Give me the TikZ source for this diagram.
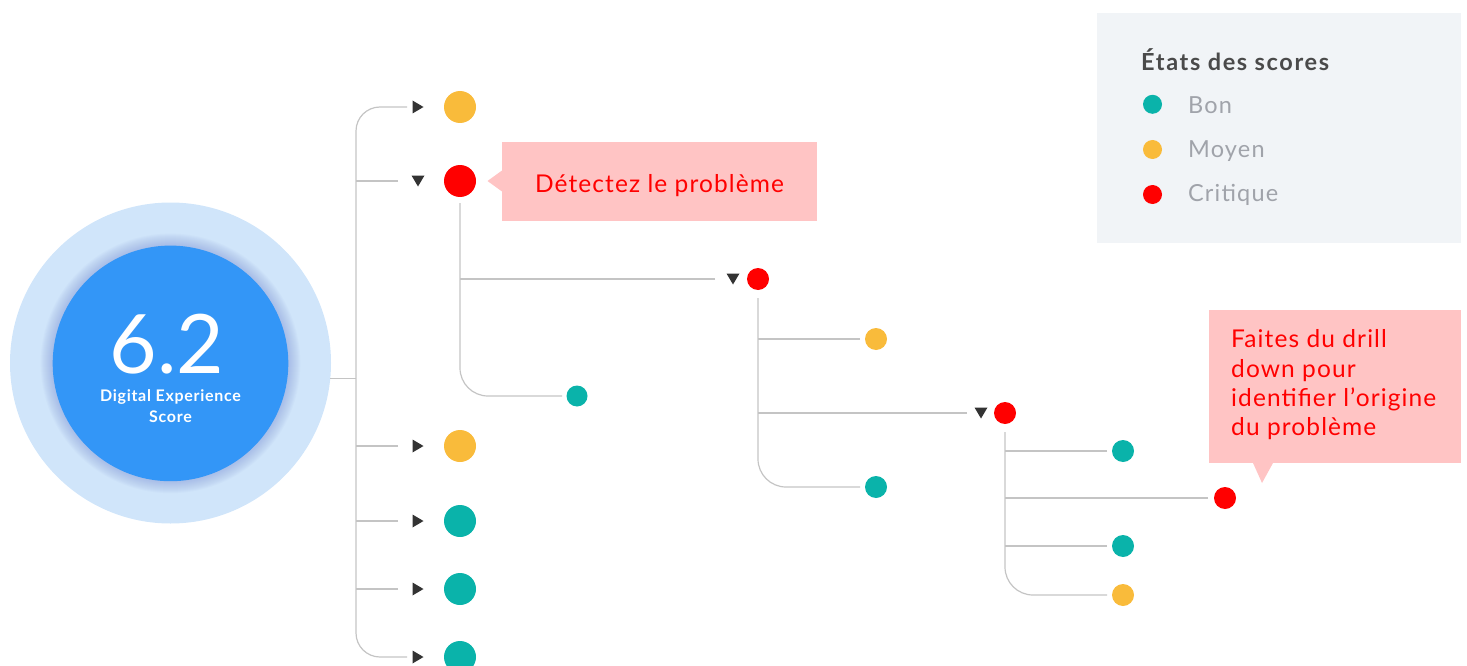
\documentclass[tikz,border=0pt]{standalone}
\usepackage{fontspec}
\setmainfont{Lato}
\newfontfamily\callfont[LetterSpace=4.5]{Lato}
\newfontfamily\legfont[LetterSpace=5]{Lato}
\newfontfamily\ttlfont[LetterSpace=7]{Lato}
\newfontfamily\dxfont[LetterSpace=4.4]{Lato}
\definecolor{teal}{HTML}{0AB3AA}
\definecolor{amber}{HTML}{F9BB3B}
\definecolor{crit}{HTML}{FF0000}
\definecolor{pinkbg}{HTML}{FFC4C4}
\definecolor{linegray}{HTML}{C4C4C4}
\definecolor{tricol}{HTML}{333333}
\definecolor{outerblue}{HTML}{D0E5FA}
\definecolor{innerblue}{HTML}{3396F7}
\definecolor{glow}{HTML}{7F95D8}
\definecolor{legbg}{HTML}{F1F4F7}
\definecolor{legtitle}{HTML}{4A4A4A}
\definecolor{legtext}{HTML}{A0A3AA}
\tikzset{
  dot/.style={circle, inner sep=0pt, minimum size=#1, draw=none},
  lnk/.style={draw=linegray, line width=1.2pt},
  rtri/.pic={\fill[tricol] (-5.5,-6.5) -- (5.5,0) -- (-5.5,6.5) -- cycle;},
  dtri/.pic={\fill[tricol] (-6.5,-5.5) -- (6.5,-5.5) -- (0,5.5) -- cycle;},
  calltext/.style={text=crit, font=\callfont\fontsize{24.5}{29.3}\selectfont, inner sep=0pt},
  legitem/.style={text=legtext, font=\legfont\fontsize{23.5}{27}\selectfont, inner sep=0pt, anchor=base west},
}
\begin{document}
\begin{tikzpicture}[x=1pt,y=-1pt]
\useasboundingbox (0,0) rectangle (1467,666);

% --- score circle ---
\node[dot=321pt, fill=outerblue] (outer) at (170.5,363) {};
\foreach \k in {1,...,12}{
  \fill[glow, opacity=0.045] (170.5,363.4) circle[radius={117.8+\k}];
}
\node[dot=235.6pt, fill=innerblue] (inner) at (170.5,363.4) {};
\node[text=white, font=\fontsize{82}{82}\selectfont, inner sep=0pt, anchor=base] (score) at (167,373) {6.2};
\node[text=white, font=\dxfont\bfseries\fontsize{16}{20}\selectfont, inner sep=0pt, anchor=base] (lbl1) at (170.5,401) {Digital Experience};
\node[text=white, font=\dxfont\bfseries\fontsize{16}{20}\selectfont, inner sep=0pt, anchor=base] (lbl2) at (170.5,422) {Score};

% --- level 1 ---
\node[dot=32pt, fill=amber] (a1) at (460,107) {};
\node[dot=32pt, fill=crit]  (a2) at (460,181) {};
\node[dot=32pt, fill=amber] (a3) at (460,446) {};
\node[dot=32pt, fill=teal]  (a4) at (460,521) {};
\node[dot=32pt, fill=teal]  (a5) at (460,589) {};
\node[dot=32pt, fill=teal]  (a6) at (460,657) {};
\pic at (418,107) {rtri};
\pic at (418,181) {dtri};
\pic at (418,446) {rtri};
\pic at (418,521) {rtri};
\pic at (418,589) {rtri};
\pic at (418,657) {rtri};

\coordinate (r0) at (356,378.5);
\coordinate (rs) at (329.8,378.5);
\coordinate (e1) at (407,107);
\coordinate (e2) at (398,181);
\coordinate (e3) at (398,446);
\coordinate (e4) at (398,521);
\coordinate (e5) at (398,589);
\coordinate (e6) at (407,657);
\draw[lnk] (rs) -- (r0);
\draw[lnk, rounded corners=24pt] (e1) -| (r0) |- (e6);
\draw[lnk] (e2) -- (e2 -| r0);
\draw[lnk] (e3) -- (e3 -| r0);
\draw[lnk] (e4) -- (e4 -| r0);
\draw[lnk] (e5) -- (e5 -| r0);

% --- callout 1 ---
\fill[pinkbg] (502,142) rectangle (817,221);
\fill[pinkbg] (502,170.5) -- (487.5,181) -- (502,191.5) -- cycle;
\node[calltext, anchor=base] (c1) at (659.5,192) {Détectez le problème};

% --- level 2 ---
\node[dot=21pt, fill=teal] (b1) at (577,396) {};
\node[dot=22pt, fill=crit] (b2) at (758,279) {};
\pic at (733,279) {dtri};
\coordinate (s2top) at ([yshift=-6pt]a2.south);
\coordinate (f1) at (562,396);
\coordinate (f2) at (715,279);
\draw[lnk, rounded corners=28pt] (s2top) |- (f1);
\draw[lnk] (f2) -- (f2 -| s2top);

% --- level 3 ---
\node[dot=22pt, fill=amber] (g1) at (876,339) {};
\node[dot=22pt, fill=teal]  (g3) at (876,487) {};
\node[dot=22pt, fill=crit]  (g2) at (1005,413) {};
\pic at (981,413) {dtri};
\coordinate (s3top) at ([yshift=-8pt]b2.south);
\coordinate (h1) at (860,339);
\coordinate (h2) at (967,413);
\coordinate (h3) at (860,487);
\draw[lnk, rounded corners=28pt] (s3top) |- (h3);
\draw[lnk] (h1) -- (h1 -| s3top);
\draw[lnk] (h2) -- (h2 -| s3top);

% --- level 4 ---
\node[dot=22pt, fill=teal]  (k1) at (1123,451) {};
\node[dot=22pt, fill=crit]  (k2) at (1225,498) {};
\node[dot=22pt, fill=teal]  (k3) at (1123,546) {};
\node[dot=22pt, fill=amber] (k4) at (1123,595) {};
\coordinate (s4top) at ([yshift=-8pt]g2.south);
\coordinate (m1) at (1107,451);
\coordinate (m2) at (1208,498);
\coordinate (m3) at (1107,546);
\coordinate (m4) at (1107,595);
\draw[lnk, rounded corners=28pt] (s4top) |- (m4);
\draw[lnk] (m1) -- (m1 -| s4top);
\draw[lnk] (m2) -- (m2 -| s4top);
\draw[lnk] (m3) -- (m3 -| s4top);

% --- callout 2 ---
\fill[pinkbg] (1209,310) rectangle (1461,463);
\fill[pinkbg] (1253,463) -- (1262,483) -- (1273,463) -- cycle;
\node[calltext, anchor=base west] (d1) at (1231,347.7) {Faites du drill};
\node[calltext, anchor=base west] (d2) at (1231,377) {down pour};
\node[calltext, anchor=base west] (d3) at (1231,406.5) {identifier l’origine};
\node[calltext, anchor=base west] (d4) at (1231,435.5) {du problème};

% --- legend ---
\fill[legbg] (1097,13) rectangle (1461,243);
\node[text=legtitle, font=\ttlfont\bfseries\fontsize{23.5}{27}\selectfont, inner sep=0pt, anchor=base west] (lt) at (1141,70.5) {États des scores};
\node[dot=19pt, fill=teal]  (l1) at (1152.5,104.3) {};
\node[dot=19pt, fill=amber] (l2) at (1152.5,149.5) {};
\node[dot=19pt, fill=crit]  (l3) at (1152.5,194.5) {};
\node[legitem] (lb) at (1188,113.3) {Bon};
\node[legitem] (lm) at (1188,157.5) {Moyen};
\node[legitem] (lc) at (1188,201.7) {Critique};
\end{tikzpicture}
\end{document}
